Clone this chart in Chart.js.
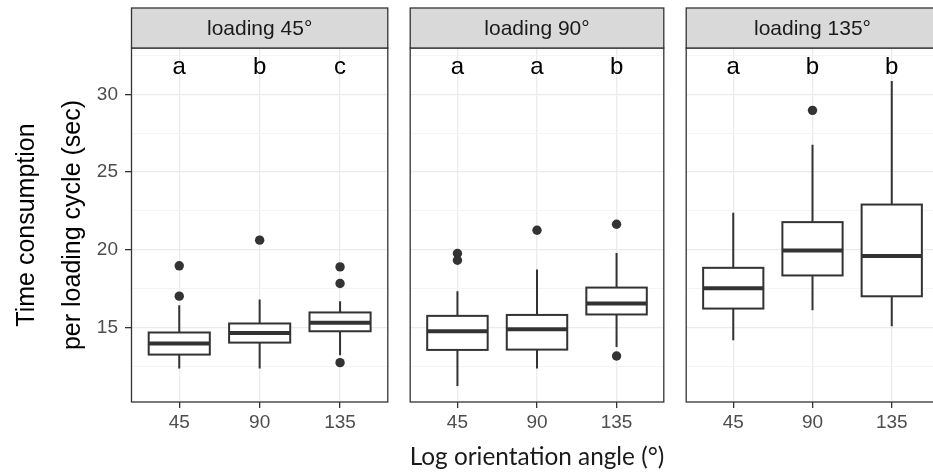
<!DOCTYPE html>
<html>
<head>
<meta charset="utf-8">
<script src="https://cdn.jsdelivr.net/npm/chart.js@4.4.1/dist/chart.umd.min.js"></script>
<style>
html, body { margin: 0; padding: 0; background: #fff; overflow: hidden; }
#wrap { position: relative; width: 933px; height: 475px; overflow: hidden; }
canvas { position: absolute; top: 0; }
</style>
</head>
<body>
<div id="wrap">
  <canvas id="p0" width="393" height="475" style="left:0px"></canvas>
  <canvas id="p1" width="264" height="475" style="left:405px"></canvas>
  <canvas id="p2" width="263" height="475" style="left:681px"></canvas>
</div>
<script>
// facets, categories and box statistics (one row per facet, one value per angle)
var panels = ['loading 45°', 'loading 90°', 'loading 135°'];
var angles = ['45', '90', '135'];
var lowWhisker  = [[12.36, 12.36, 13.22], [11.24, 12.36, 13.75], [14.18, 16.11, 15.08]];
var lowerQuart  = [[13.26, 14.03, 14.76], [13.56, 13.58, 15.84], [16.22, 18.35, 17.01]];
var medians     = [[13.97, 14.65, 15.30], [14.76, 14.89, 16.55], [17.53, 19.96, 19.60]];
var upperQuart  = [[14.68, 15.26, 15.97], [15.75, 15.81, 17.57], [18.84, 21.78, 22.91]];
var highWhisker = [[16.44, 16.80, 16.69], [17.33, 18.73, 19.80], [22.38, 26.76, 30.86]];
var outliers = [
  [[18.97, 17.02], [20.62], [18.90, 17.83, 12.74]],
  [[19.76, 19.33], [21.26], [21.64, 13.17]],
  [[], [28.97], []]
];
var letters = [['a', 'b', 'c'], ['a', 'a', 'b'], ['a', 'b', 'b']];
var yTicks = [15, 20, 25, 30];
var yMinor = [12.5, 17.5, 22.5, 27.5, 32.5];

var letterLevel = 31.3;
var boxHalf = 0.38;
var dark = '#333333';

var facetPlugin = {
  id: 'facet',
  beforeDatasetsDraw: function (chart) {
    var p = chart.options.plugins.facet.panel;
    var x = chart.scales.x, y = chart.scales.y, ctx = chart.ctx;
    var half = x.getPixelForValue(boxHalf) - x.getPixelForValue(0);
    ctx.save();
    ctx.strokeStyle = dark;
    for (var i = 0; i < angles.length; i++) {
      var cx = x.getPixelForValue(i);
      var top = y.getPixelForValue(upperQuart[p][i]);
      var bot = y.getPixelForValue(lowerQuart[p][i]);
      ctx.lineWidth = 2;
      ctx.beginPath();
      ctx.moveTo(cx, y.getPixelForValue(highWhisker[p][i]));
      ctx.lineTo(cx, top);
      ctx.moveTo(cx, bot);
      ctx.lineTo(cx, y.getPixelForValue(lowWhisker[p][i]));
      ctx.stroke();
      ctx.fillStyle = '#ffffff';
      ctx.fillRect(cx - half, top, 2 * half, bot - top);
      ctx.strokeRect(cx - half, top, 2 * half, bot - top);
      var m = y.getPixelForValue(medians[p][i]);
      ctx.lineWidth = 4;
      ctx.beginPath();
      ctx.moveTo(cx - half, m);
      ctx.lineTo(cx + half, m);
      ctx.stroke();
    }
    ctx.restore();
  },
  afterDraw: function (chart) {
    var p = chart.options.plugins.facet.panel;
    var a = chart.chartArea, ctx = chart.ctx;
    var x = chart.scales.x, y = chart.scales.y;
    ctx.save();
    // letters
    ctx.fillStyle = '#000000';
    ctx.font = '24px "Liberation Sans", Arial, sans-serif';
    ctx.textAlign = 'center';
    ctx.textBaseline = 'alphabetic';
    for (var i = 0; i < angles.length; i++) {
      ctx.fillText(letters[p][i], x.getPixelForValue(i), y.getPixelForValue(letterLevel));
    }
    // panel border
    ctx.strokeStyle = dark;
    ctx.lineWidth = 1.3;
    ctx.strokeRect(a.left + 0.5, a.top, a.right - a.left - 1, a.bottom - a.top);
    // strip
    var st = 8;
    ctx.fillStyle = '#D9D9D9';
    ctx.fillRect(a.left + 0.5, st, a.right - a.left - 1, a.top - st);
    ctx.strokeRect(a.left + 0.5, st, a.right - a.left - 1, a.top - st);
    ctx.fillStyle = '#1A1A1A';
    ctx.font = '21px "Liberation Sans", Arial, sans-serif';
    ctx.textBaseline = 'middle';
    ctx.fillText(panels[p], (a.left + a.right) / 2, (st + a.top) / 2 + 1);
    ctx.restore();
  }
};

function makePanel(p) {
  var first = p === 0;
  var pts = [];
  for (var i = 0; i < angles.length; i++) {
    for (var k = 0; k < outliers[p][i].length; k++) {
      pts.push({ x: i, y: outliers[p][i][k] });
    }
  }
  var isMajor = function (c) { return c.tick && yTicks.indexOf(c.tick.value) >= 0; };
  new Chart(document.getElementById('p' + p), {
    type: 'scatter',
    data: {
      datasets: [{
        data: pts,
        pointRadius: 4.7,
        pointHoverRadius: 4.7,
        backgroundColor: dark,
        borderWidth: 0
      }]
    },
    options: {
      responsive: false,
      animation: false,
      devicePixelRatio: 1,
      layout: { padding: { left: first ? 0 : 1, right: 1, top: 48, bottom: 0 } },
      plugins: {
        legend: { display: false },
        tooltip: { enabled: false },
        facet: { panel: p }
      },
      scales: {
        x: {
          type: 'linear',
          min: -0.6,
          max: 2.6,
          offset: false,
          afterBuildTicks: function (s) {
            s.ticks = angles.map(function (a, i) { return { value: i }; });
          },
          afterFit: function (s) { s.height = 73; },
          ticks: {
            color: '#4D4D4D',
            font: { family: 'Liberation Sans', size: 19 },
            padding: 3,
            maxRotation: 0,
            autoSkip: false,
            callback: function (v) { return angles[v]; }
          },
          grid: { color: '#EBEBEB', lineWidth: 1.3, tickLength: 6, tickColor: dark },
          border: { display: false },
          title: {
            display: p === 1,
            text: 'Log orientation angle (°)',
            color: '#1A1A1A',
            font: { family: 'Lato', size: 24.5 },
            padding: { top: 0, bottom: 3 }
          }
        },
        y: {
          type: 'linear',
          min: 10.21,
          max: 32.98,
          afterBuildTicks: function (s) {
            s.ticks = yMinor.concat(yTicks).sort(function (a, b) { return a - b; })
              .map(function (v) { return { value: v }; });
          },
          afterFit: function (s) { s.width = first ? 131 : 0; },
          ticks: {
            display: first,
            color: '#4D4D4D',
            font: { family: 'Liberation Sans', size: 19 },
            padding: 7,
            callback: function (v) { return yTicks.indexOf(v) >= 0 ? String(v) : ''; }
          },
          grid: {
            color: function (c) { return isMajor(c) ? '#EBEBEB' : '#F3F3F3'; },
            lineWidth: function (c) { return isMajor(c) ? 1.3 : 0.9; },
            drawTicks: first,
            tickLength: 6,
            tickColor: function (c) { return isMajor(c) ? dark : 'rgba(0,0,0,0)'; }
          },
          border: { display: false },
          title: {
            display: first,
            text: ['Time consumption', 'per loading cycle (sec)'],
            color: '#000000',
            font: { family: 'Liberation Sans', size: 25, lineHeight: 1.84 },
            padding: { top: 4, bottom: 0 }
          }
        }
      }
    },
    plugins: [facetPlugin]
  });
}

for (var p = 0; p < panels.length; p++) makePanel(p);
</script>
</body>
</html>
